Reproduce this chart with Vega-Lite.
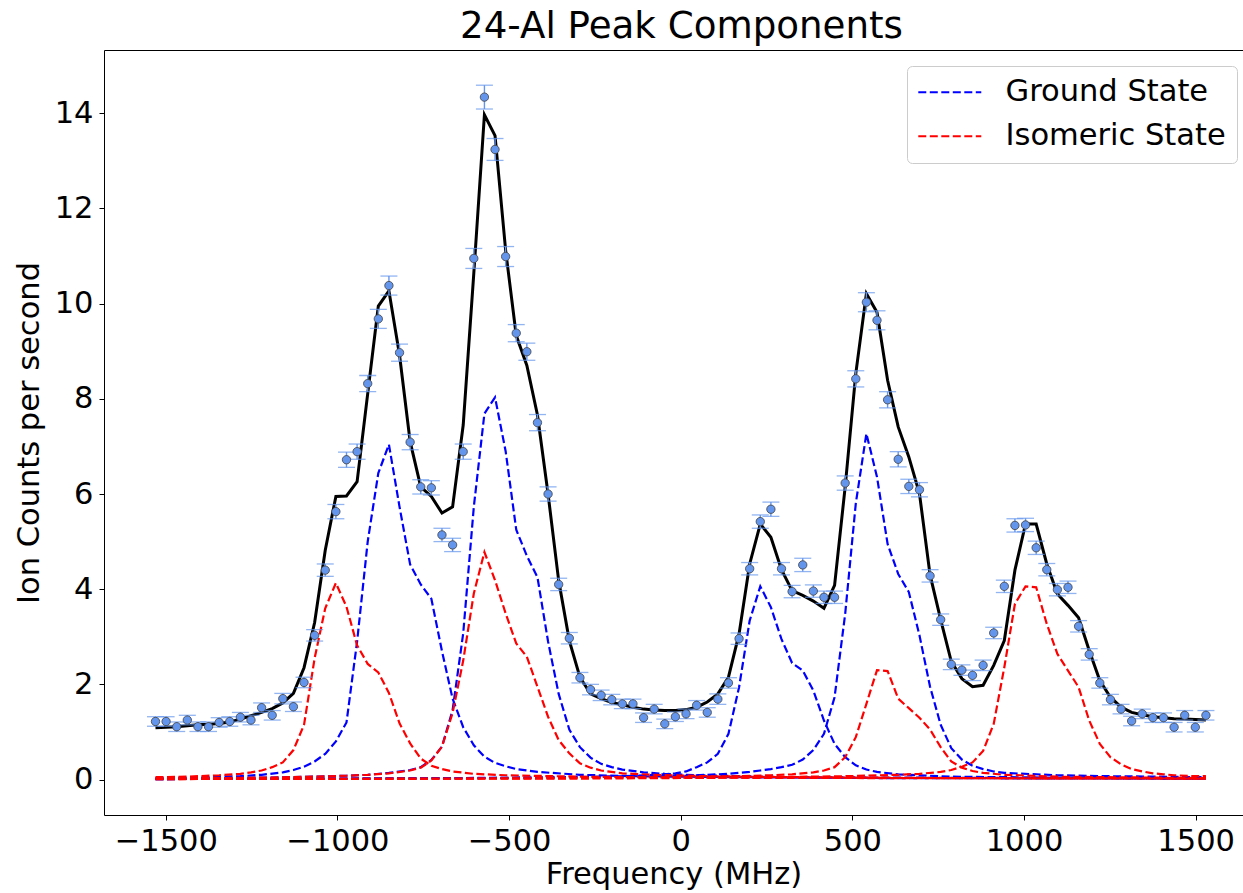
{
"$schema": "https://vega.github.io/schema/vega-lite/v6.json",
"width": 1139, "height": 765,
"autosize": {"type": "none"},
"padding": {"left": 104, "top": 50, "right": 0, "bottom": 78},
"title": {"text": "24-Al Peak Components", "fontSize": 37.2, "font": "DejaVu Sans", "fontWeight": "normal", "color": "black", "anchor": "middle", "dx": 8, "baseline": "alphabetic", "offset": -25},
"config": {"view": {"stroke": null}, "axis": {"domainColor": "black", "tickColor": "black", "labelColor": "black", "titleColor": "black", "grid": false, "labelFont": "DejaVu Sans", "titleFont": "DejaVu Sans", "titleFontWeight": "normal"}},
"resolve": {"axis": {"x": "independent", "y": "independent"}},
"data": {"values": [
{"f":-1530,"y":1.22,"e":0.1,"fit":1.09,"g1":0.03,"g2":0.02,"g3":0.01,"g4":0.01,"i1":0.05,"i2":0.02,"i3":0.01,"i4":0.01},
{"f":-1499.1,"y":1.22,"e":0.1,"fit":1.10},
{"f":-1468.2,"y":1.11,"e":0.1,"fit":1.11},
{"f":-1437.3,"y":1.25,"e":0.1,"fit":1.13,"i1":0.06},
{"f":-1406.4,"y":1.11,"e":0.1,"fit":1.15},
{"f":-1375.5,"y":1.11,"e":0.1,"fit":1.16,"g1":0.05},
{"f":-1344.5,"y":1.20,"e":0.1,"fit":1.18,"i1":0.09},
{"f":-1313.6,"y":1.22,"e":0.1,"fit":1.21},
{"f":-1282.7,"y":1.31,"e":0.1,"fit":1.27,"g1":0.07,"i1":0.12},
{"f":-1251.8,"y":1.25,"e":0.1,"fit":1.34,"i1":0.15},
{"f":-1220.9,"y":1.51,"e":0.1,"fit":1.41,"g1":0.1,"g2":0.04,"i1":0.19,"i2":0.04},
{"f":-1190,"y":1.35,"e":0.1,"fit":1.49,"i1":0.26},
{"f":-1159.1,"y":1.70,"e":0.11,"fit":1.61,"g1":0.15,"i1":0.36},
{"f":-1128.2,"y":1.53,"e":0.1,"fit":1.81,"g1":0.2,"i1":0.62},
{"f":-1097.3,"y":2.04,"e":0.11,"fit":2.35,"g1":0.27,"i1":1.15},
{"f":-1066.4,"y":3.03,"e":0.12,"fit":3.3,"g1":0.38,"g2":0.06,"i1":2.55,"i2":0.06},
{"f":-1035.5,"y":4.40,"e":0.13,"fit":4.82,"g1":0.54,"i1":3.6},
{"f":-1004.5,"y":5.63,"e":0.15,"fit":5.95,"g1":0.8,"i1":4.13},
{"f":-973.6,"y":6.72,"e":0.16,"fit":5.96,"g1":1.2,"g2":0.08,"i1":3.63,"i2":0.08},
{"f":-942.7,"y":6.89,"e":0.16,"fit":6.26,"g1":2.9,"i1":2.82},
{"f":-911.8,"y":8.32,"e":0.17,"fit":8.11,"g1":5.0,"g2":0.1,"g3":0.02,"i1":2.43,"i2":0.1},
{"f":-880.9,"y":9.68,"e":0.2,"fit":9.95,"g1":6.44,"i1":2.25},
{"f":-850,"y":10.38,"e":0.2,"fit":10.27,"g1":7.04,"g2":0.14,"i1":1.82,"i2":0.13},
{"f":-819.1,"y":8.97,"e":0.18,"fit":8.92,"g1":5.73,"i1":1.18},
{"f":-788.2,"y":7.09,"e":0.16,"fit":7.1,"g1":4.52,"g2":0.2,"i1":0.76,"i2":0.19},
{"f":-757.3,"y":6.15,"e":0.15,"fit":6.15,"g1":4.1,"g2":0.26,"i1":0.44,"i2":0.25},
{"f":-726.4,"y":6.13,"e":0.15,"fit":5.95,"g1":3.8,"g2":0.41,"i1":0.29,"i2":0.4},
{"f":-695.5,"y":5.14,"e":0.14,"fit":5.6,"g1":2.7,"g2":0.69,"i1":0.22,"i2":0.69},
{"f":-664.5,"y":4.93,"e":0.14,"fit":5.73,"g1":1.7,"g2":1.46,"i1":0.17,"i2":1.4},
{"f":-633.6,"y":6.89,"e":0.16,"fit":7.45,"g1":1.1,"g2":3.07,"i2":2.5},
{"f":-602.7,"y":10.95,"e":0.21,"fit":10.64,"g1":0.72,"g2":5.73,"g4":0.03,"i1":0.12,"i2":3.91,"i3":0.02},
{"f":-571.8,"y":14.34,"e":0.25,"fit":13.97,"g1":0.48,"g2":7.69,"i2":4.78},
{"f":-540.9,"y":13.24,"e":0.23,"fit":13.53,"g1":0.35,"g2":8.03,"i2":4.19},
{"f":-510,"y":10.99,"e":0.21,"fit":11.12,"g1":0.28,"g2":6.9,"i1":0.09,"i2":3.49},
{"f":-479.1,"y":9.38,"e":0.18,"fit":9.33,"g1":0.22,"g2":5.25,"i2":2.86},
{"f":-448.2,"y":8.99,"e":0.18,"fit":8.70,"g2":4.7,"g3":0.04,"i2":2.58},
{"f":-417.3,"y":7.50,"e":0.17,"fit":7.66,"g1":0.16,"g2":4.25,"i2":1.95},
{"f":-386.4,"y":6.0,"e":0.15,"fit":6.0,"g2":2.9,"i2":1.32},
{"f":-355.5,"y":4.10,"e":0.13,"fit":4.18,"g2":1.8,"i2":0.83},
{"f":-324.5,"y":2.97,"e":0.12,"fit":2.92,"g2":1.05,"i2":0.55},
{"f":-293.6,"y":2.14,"e":0.11,"fit":2.15,"g1":0.1,"g2":0.68,"g3":0.05,"i1":0.06,"i2":0.34,"i4":0.02},
{"f":-262.7,"y":1.89,"e":0.11,"fit":1.8,"g2":0.46,"i2":0.25},
{"f":-231.8,"y":1.77,"e":0.11,"fit":1.7,"g2":0.33,"i2":0.19},
{"f":-200.9,"y":1.68,"e":0.11,"fit":1.62,"g2":0.26},
{"f":-170,"y":1.59,"e":0.1,"fit":1.57,"g2":0.21,"g3":0.07,"i2":0.13},
{"f":-139.1,"y":1.59,"e":0.1,"fit":1.52,"g1":0.07,"g4":0.06,"i3":0.04},
{"f":-108.2,"y":1.30,"e":0.1,"fit":1.48,"g2":0.15,"g3":0.09},
{"f":-77.3,"y":1.48,"e":0.1,"fit":1.46,"i2":0.1},
{"f":-46.4,"y":1.17,"e":0.1,"fit":1.45,"g2":0.12,"g3":0.11},
{"f":-15.5,"y":1.32,"e":0.1,"fit":1.45,"g3":0.13},
{"f":15.5,"y":1.38,"e":0.1,"fit":1.47,"g2":0.1,"g3":0.17,"g4":0.08,"i1":0.04},
{"f":46.4,"y":1.56,"e":0.1,"fit":1.52,"g3":0.26},
{"f":77.3,"y":1.41,"e":0.1,"fit":1.63,"g3":0.36,"i2":0.07},
{"f":108.2,"y":1.69,"e":0.11,"fit":1.80,"g3":0.54},
{"f":139.1,"y":2.03,"e":0.11,"fit":2.15,"g3":0.96,"g4":0.12},
{"f":170,"y":2.96,"e":0.12,"fit":3.06,"g1":0.05,"g2":0.07,"g3":1.94,"i3":0.07,"i4":0.04},
{"f":200.9,"y":4.43,"e":0.13,"fit":4.53,"g3":3.34,"g4":0.16},
{"f":231.8,"y":5.42,"e":0.14,"fit":5.37,"g3":4.06,"g4":0.19},
{"f":262.7,"y":5.68,"e":0.15,"fit":5.09,"g3":3.62,"g4":0.22,"i3":0.09},
{"f":293.6,"y":4.43,"e":0.13,"fit":4.41,"g3":2.95,"g4":0.26},
{"f":324.5,"y":3.95,"e":0.13,"fit":3.97,"g2":0.05,"g3":2.45,"g4":0.31,"i2":0.05,"i3":0.11},
{"f":355.5,"y":4.51,"e":0.14,"fit":3.87,"g3":2.29,"g4":0.42},
{"f":386.4,"y":3.96,"e":0.13,"fit":3.75,"g3":1.87,"g4":0.62,"i3":0.15},
{"f":417.3,"y":3.83,"e":0.13,"fit":3.60,"g3":1.24,"g4":0.96,"i3":0.19},
{"f":448.2,"y":3.83,"e":0.13,"fit":4.08,"g3":0.75,"g4":1.73,"i3":0.26},
{"f":479.1,"y":6.23,"e":0.15,"fit":6.15,"g3":0.47,"g4":3.48,"i3":0.47,"i4":0.07},
{"f":510,"y":8.42,"e":0.17,"fit":8.53,"g3":0.3,"g4":5.8,"i3":0.89},
{"f":540.9,"y":10.03,"e":0.2,"fit":10.21,"g3":0.21,"g4":7.27,"i3":1.59},
{"f":571.8,"y":9.65,"e":0.2,"fit":9.82,"g3":0.16,"g4":6.36,"i3":2.3},
{"f":602.7,"y":7.98,"e":0.17,"fit":8.39,"g4":4.95,"i3":2.28},
{"f":633.6,"y":6.73,"e":0.16,"fit":7.41,"g1":0.03,"g2":0.04,"g3":0.11,"g4":4.32,"i1":0.03,"i3":1.7,"i4":0.1},
{"f":664.5,"y":6.16,"e":0.15,"fit":6.78,"g4":3.94,"i3":1.5},
{"f":695.5,"y":6.09,"e":0.15,"fit":6.01,"g4":3.03,"i3":1.3,"i4":0.12},
{"f":726.4,"y":4.28,"e":0.13,"fit":4.3,"g4":1.95,"i3":1.05},
{"f":757.3,"y":3.36,"e":0.12,"fit":3.36,"g4":1.15,"i3":0.68,"i4":0.16},
{"f":788.2,"y":2.42,"e":0.11,"fit":2.48,"g3":0.06,"g4":0.66,"i2":0.03,"i3":0.38,"i4":0.2},
{"f":819.1,"y":2.30,"e":0.11,"fit":2.12,"g4":0.42,"i3":0.25,"i4":0.27},
{"f":850,"y":2.19,"e":0.11,"fit":1.95,"g4":0.29,"i3":0.18,"i4":0.36},
{"f":880.9,"y":2.40,"e":0.11,"fit":1.98,"g4":0.22,"i3":0.14,"i4":0.6},
{"f":911.8,"y":3.08,"e":0.12,"fit":2.4,"g4":0.17,"i4":1.17},
{"f":942.7,"y":4.06,"e":0.13,"fit":2.92,"g4":0.14,"i3":0.1,"i4":2.36},
{"f":973.6,"y":5.34,"e":0.14,"fit":4.4,"i4":3.69},
{"f":1004.5,"y":5.35,"e":0.14,"fit":5.37,"i4":4.06},
{"f":1035.5,"y":4.87,"e":0.14,"fit":5.37,"i4":4.04},
{"f":1066.4,"y":4.41,"e":0.13,"fit":4.53,"i4":3.27},
{"f":1097.3,"y":3.99,"e":0.13,"fit":3.9,"g3":0.04,"g4":0.09,"i3":0.06,"i4":2.64},
{"f":1128.2,"y":4.04,"e":0.13,"fit":3.66,"i4":2.29},
{"f":1159.1,"y":3.22,"e":0.12,"fit":3.40,"i4":1.94},
{"f":1190,"y":2.63,"e":0.12,"fit":2.71,"i4":1.24},
{"f":1220.9,"y":2.03,"e":0.11,"fit":2.08,"i4":0.75},
{"f":1251.8,"y":1.68,"e":0.11,"fit":1.73,"g4":0.07,"i4":0.47},
{"f":1282.7,"y":1.48,"e":0.1,"fit":1.52,"i4":0.32},
{"f":1313.6,"y":1.23,"e":0.1,"fit":1.41,"i4":0.22},
{"f":1344.5,"y":1.38,"e":0.1,"fit":1.36,"i4":0.17},
{"f":1375.5,"y":1.30,"e":0.1,"fit":1.32,"i4":0.13},
{"f":1406.4,"y":1.30,"e":0.1,"fit":1.30,"i4":0.11},
{"f":1437.3,"y":1.10,"e":0.1,"fit":1.28,"i4":0.09},
{"f":1468.2,"y":1.35,"e":0.1,"fit":1.27},
{"f":1499.1,"y":1.10,"e":0.1,"fit":1.26,"i4":0.07},
{"f":1530,"y":1.35,"e":0.1,"fit":1.25,"g1":0.02,"g2":0.02,"g3":0.02,"g4":0.05,"i1":0.02,"i2":0.02,"i3":0.03,"i4":0.07}
]},
"layer": [
{"mark": {"type": "line", "color": "black", "strokeWidth": 3},
 "encoding": {
  "x": {"field": "f", "type": "quantitative", "scale": {"domain": [-1680, 1638], "nice": false, "zero": false},
        "axis": {"orient": "bottom", "values": [-1500, -1000, -500, 0, 500, 1000, 1500], "format": "d", "labelFontSize": 30.5, "tickSize": 5, "labelPadding": 6, "title": "Frequency (MHz)", "titleFontSize": 30.5, "titlePadding": 3, "labelFlush": false, "labelOverlap": false}},
  "y": {"field": "fit", "type": "quantitative", "scale": {"domain": [-0.745, 15.33], "nice": false, "zero": false},
        "axis": {"orient": "left", "values": [0, 2, 4, 6, 8, 10, 12, 14], "labelFontSize": 30.5, "tickSize": 5, "labelPadding": 6, "title": "Ion Counts per second", "titleFontSize": 30.5, "titlePadding": 10, "labelFlush": false, "labelOverlap": false}}
 }},
{"transform": [{"fold": ["g1", "g2", "g3", "g4"], "as": ["comp", "val"]}, {"filter": "isValid(datum.val)"}],
 "mark": {"type": "line", "strokeDash": [8, 3.5], "strokeWidth": 2.2},
 "encoding": {
  "x": {"field": "f", "type": "quantitative", "axis": null},
  "y": {"field": "val", "type": "quantitative", "axis": null},
  "detail": {"field": "comp"},
  "color": {"datum": "Ground State", "scale": {"domain": ["Ground State", "Isomeric State"], "range": ["#0000ff", "#ff0000"]},
   "legend": {"orient": "none", "legendX": 803, "legendY": 16, "title": null, "symbolType": "M-1.9,0H6.1", "symbolSize": 248, "symbolStrokeWidth": 2.2, "symbolDash": [8, 3.5], "labelFontSize": 30.5, "labelFont": "DejaVu Sans", "labelColor": "black", "fillColor": "white", "strokeColor": "#cccccc", "cornerRadius": 5, "padding": 11, "rowPadding": 13, "labelOffset": 57, "labelLimit": 0}}
 }},
{"transform": [{"fold": ["i1", "i2", "i3", "i4"], "as": ["comp", "val"]}, {"filter": "isValid(datum.val)"}],
 "mark": {"type": "line", "strokeDash": [8, 3.5], "strokeWidth": 2.2},
 "encoding": {
  "x": {"field": "f", "type": "quantitative", "axis": null},
  "y": {"field": "val", "type": "quantitative", "axis": null},
  "detail": {"field": "comp"},
  "color": {"datum": "Isomeric State"}
 }},
{"mark": {"type": "errorbar", "color": "#6495ED", "ticks": {"size": 17, "color": "#6495ED", "thickness": 1.3}, "rule": {"color": "#6495ED", "strokeWidth": 1.4}},
 "encoding": {
  "x": {"field": "f", "type": "quantitative", "axis": null},
  "y": {"field": "y", "type": "quantitative", "axis": null},
  "yError": {"field": "e"}
 }},
{"mark": {"type": "circle", "size": 70, "color": "#6495ED", "stroke": "#404040", "strokeWidth": 0.8, "opacity": 1},
 "encoding": {
  "x": {"field": "f", "type": "quantitative", "axis": {"orient": "top", "labels": false, "ticks": false, "title": null, "domain": true, "grid": false}},
  "y": {"field": "y", "type": "quantitative", "axis": null}
 }}
]
}
